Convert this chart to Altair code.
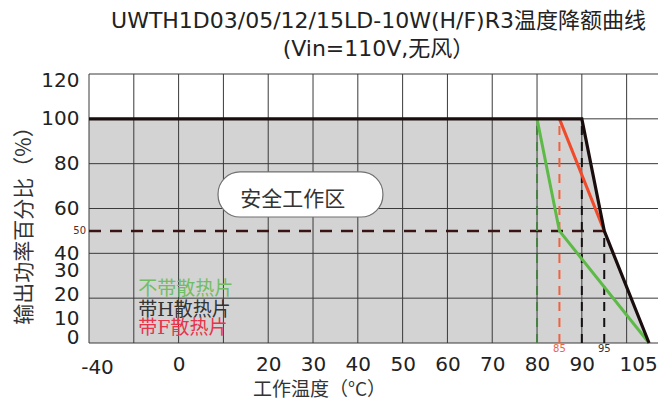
import altair as alt
import pandas as pd

# ---------------- data ----------------
# derating curves (temperature in plot units, percent)
h_temp = [-20, 90, 95, 105]          # 带H散热片 (black)
h_pct = [100, 100, 50, 0]
f_temp = [85, 95]                    # 带F散热片 (red)
f_pct = [100, 50]
n_temp = [80, 85, 105]               # 不带散热片 (green)
n_pct = [100, 50, 0]

# reference dashed lines
dash_h_temp = [-20, 95]
dash_h_pct = [50, 50]
dash_v_temp = [80, 85, 90, 95]
dash_v_top = [100, 100, 100, 50]
dash_v_color = ["#4a7f45", "#f0623e", "#151010", "#151010"]

# grid
x_grid = [-20, -10, 0, 10, 20, 30, 40, 50, 60, 70, 80, 90, 100]
y_grid = [0, 20, 40, 60, 80, 100, 120]

# ticks
x_tick_values = [-20, 0, 20, 30, 40, 50, 60, 70, 80, 90, 105]
x_tick_labels = ["-40", "0", "20", "30", "40", "50", "60", "70", "80", "90", "105"]
y_tick_values = [0, 10, 20, 30, 40, 60, 80, 100, 120]

# annotations
legend_text = ["不带散热片", "带H散热片", "带F散热片"]
legend_color = ["#72bd63", "#333333", "#e8334a"]
legend_t = [-9, -9, -9]
legend_p = [24.3, 14.9, 6.5]

box_t, box_t2, box_p, box_p2 = 8.8, 45.6, 56.2, 76.3
box_label = "安全工作区"
box_label_t, box_label_p = 25.5, 63.8

small_text = ["85", "95"]
small_t = [85, 95]
small_color = ["#f0623e", "#333333"]

X_MIN, X_MAX = -20, 107
Y_MIN, Y_MAX = 0, 120

# ---------------- encodings ----------------
label_expr = "datum.label"
for v, l in reversed(list(zip(x_tick_values, x_tick_labels))):
    label_expr = f"datum.value === {v} ? '{l}' : ({label_expr})"

XS = alt.Scale(domain=[X_MIN, X_MAX], nice=False, zero=False)
YS = alt.Scale(domain=[Y_MIN, Y_MAX], nice=False, zero=False)

X_AXIS = alt.Axis(
    values=x_tick_values, labelExpr=label_expr, grid=False, ticks=False, domain=False,
    labelFont="DejaVu Sans", labelFontSize=20, labelColor="#222222",
    labelPadding={"condition": {"test": "datum.value === -20", "value": 14}, "value": 11},
    labelOffset={"condition": [
        {"test": "datum.value === -20", "value": 8},
        {"test": "datum.value === 105", "value": -11},
    ], "value": 0},
    labelFlush=False, labelOverlap=False,
    title="工作温度（°C）", titleFont="Noto Sans CJK SC", titleFontSize=19,
    titleFontWeight="normal", titleColor="#333333",
    titleX=230, titleY=56, titleAlign="center", titleBaseline="bottom",
)
Y_AXIS = alt.Axis(
    values=y_tick_values, grid=False, ticks=False, domain=False,
    labelFont="DejaVu Sans", labelFontSize=20, labelColor="#222222", labelPadding=10,
    labelFlush=False, labelOverlap=False,
    labelOffset={"condition": [
        {"test": "datum.value === 120", "value": 6},
        {"test": "datum.value === 30", "value": -5},
        {"test": "datum.value === 20", "value": -4},
        {"test": "datum.value === 10", "value": -2},
        {"test": "datum.value === 0", "value": -6},
    ], "value": 0},
    title="输出功率百分比（%）", titleFont="Noto Sans CJK SC", titleFontSize=21,
    titleFontWeight="normal", titleColor="#333333",
    titleX=-55, titleY=146, titleAngle=270, titleAlign="center", titleBaseline="bottom",
)


def X(field="t"):
    return alt.X(field, type="quantitative", scale=XS, axis=X_AXIS)


def Y(field="p"):
    return alt.Y(field, type="quantitative", scale=YS, axis=Y_AXIS)


# ---------------- tables ----------------
df_h = pd.DataFrame({"t": h_temp, "p": h_pct})
df_f = pd.DataFrame({"t": f_temp, "p": f_pct})
df_n = pd.DataFrame({"t": n_temp, "p": n_pct})
df_xg = pd.DataFrame({"t": x_grid, "p": [Y_MIN] * len(x_grid), "p2": [Y_MAX] * len(x_grid)})
df_yg = pd.DataFrame({"t": [X_MIN] * len(y_grid), "t2": [X_MAX] * len(y_grid), "p": y_grid})
df_dh = pd.DataFrame({"t": dash_h_temp, "p": dash_h_pct})
df_dv = pd.DataFrame({"t": dash_v_temp, "p": [0] * len(dash_v_temp), "p2": dash_v_top, "c": dash_v_color})
df_leg = pd.DataFrame({"t": legend_t, "p": legend_p, "txt": legend_text, "c": legend_color})
df_box = pd.DataFrame({"t": [box_t], "t2": [box_t2], "p": [box_p], "p2": [box_p2]})
df_boxl = pd.DataFrame({"t": [box_label_t], "p": [box_label_p], "txt": [box_label]})
df_small = pd.DataFrame({"t": small_t, "p": [0, 0], "txt": small_text, "c": small_color})
df_50 = pd.DataFrame({"t": [X_MIN], "p": [50], "txt": ["50"]})

# ---------------- layers ----------------
area = alt.Chart(df_h).mark_area(color="#d3d3d3", opacity=1).encode(x=X(), y=Y())

xgrid = alt.Chart(df_xg).mark_rule(color="#3a3a3a", strokeWidth=1).encode(x=X(), y=Y(), y2="p2")
ygrid = alt.Chart(df_yg).mark_rule(color="#3a3a3a", strokeWidth=1).encode(x=X(), x2="t2", y=Y())

dash_h = alt.Chart(df_dh).mark_line(color="#3a1414", strokeWidth=2.5, strokeDash=[12, 9]).encode(x=X(), y=Y())
dash_v = alt.Chart(df_dv).mark_rule(strokeWidth=2, strokeDash=[9, 7]).encode(
    x=X(), y=Y(), y2="p2", color=alt.Color("c:N", scale=None))

line_n = alt.Chart(df_n).mark_line(color="#5dba47", strokeWidth=3).encode(x=X(), y=Y())
line_f = alt.Chart(df_f).mark_line(color="#f04a2a", strokeWidth=3).encode(x=X(), y=Y())
line_h = alt.Chart(df_h).mark_line(color="#1a0d0d", strokeWidth=3.2).encode(x=X(), y=Y())

box = alt.Chart(df_box).mark_rect(fill="white", stroke="#707070", strokeWidth=1.2, cornerRadius=22).encode(
    x=X(), x2="t2", y=Y(), y2="p2")
box_txt = alt.Chart(df_boxl).mark_text(font="Noto Sans CJK SC", fontSize=21, color="#333333",
                                        align="center", baseline="middle").encode(x=X(), y=Y(), text="txt:N")

leg = alt.Chart(df_leg).mark_text(font="DejaVu Serif, Noto Sans CJK SC", fontSize=19, align="left",
                                   baseline="middle").encode(
    x=X(), y=Y(), text="txt:N", color=alt.Color("c:N", scale=None))

small = alt.Chart(df_small).mark_text(font="DejaVu Sans", fontSize=10, align="center", baseline="middle",
                                       dy=6).encode(
    x=X(), y=Y(), text="txt:N", color=alt.Color("c:N", scale=None))

lbl50 = alt.Chart(df_50).mark_text(font="DejaVu Sans", fontSize=10, align="right", baseline="middle",
                                    dx=-3, color="#5a2a22").encode(x=X(), y=Y(), text="txt:N")

chart = alt.layer(
    area, xgrid, ygrid, dash_h, dash_v, line_n, line_f, line_h, box, box_txt, leg, small, lbl50
).properties(
    width=569,
    height=269,
    autosize=alt.AutoSizeParams(type="none"),
    padding={"left": 81, "top": 66, "right": 0, "bottom": 56},
    title=alt.TitleParams(
        text=["UWTH1D03/05/12/15LD-10W(H/F)R3温度降额曲线", "(Vin=110V,无风）"],
        font="DejaVu Sans, Noto Sans CJK SC", fontSize=22, fontWeight="normal", color="#222222",
        lineHeight=28, anchor="middle", offset=9, dx=5,
    ),
).configure_view(stroke=None)

chart.save("out.html", embed_options={"renderer": "svg", "actions": False})
